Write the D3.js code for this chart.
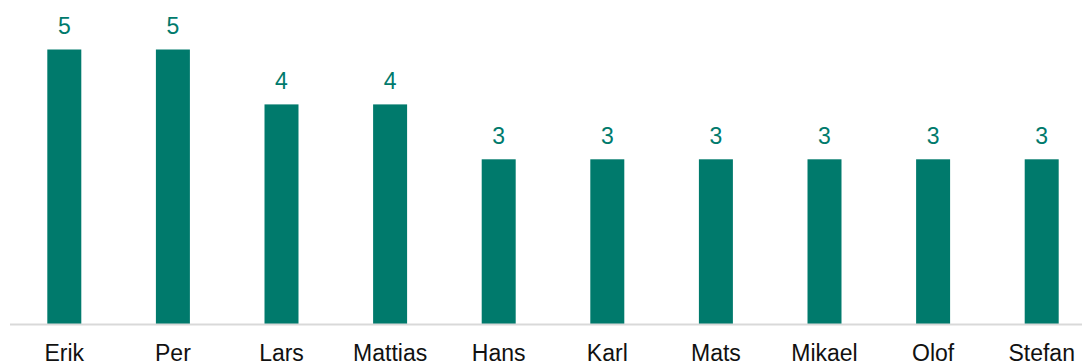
<!DOCTYPE html>
<html>
<head>
<meta charset="utf-8">
<script src="https://cdn.jsdelivr.net/npm/d3@7"></script>
<style>
  html, body { margin: 0; padding: 0; background: #fff; }
  svg { display: block; }
  text { font-family: "Liberation Sans", Arial, sans-serif; }
</style>
</head>
<body>
<div id="chart"></div>
<script>
const names = ["Erik", "Per", "Lars", "Mattias", "Hans", "Karl", "Mats", "Mikael", "Olof", "Stefan"];
const counts = [5, 5, 4, 4, 3, 3, 3, 3, 3, 3];

const width = 1082, height = 362;
const barColor = "#007A6C";

const svg = d3.select("#chart").append("svg")
  .attr("width", width)
  .attr("height", height);

const x = d3.scaleBand()
  .domain(names)
  .range([10, 1096])
  .paddingInner(0.687)
  .paddingOuter(0.3435);

const y = d3.scaleLinear()
  .domain([0, 5])
  .range([324, 49.5]);

// bars
svg.append("g").selectAll("rect")
  .data(names)
  .join("rect")
  .attr("x", d => x(d))
  .attr("width", x.bandwidth())
  .attr("y", (d, i) => y(counts[i]))
  .attr("height", (d, i) => y(0) - y(counts[i]))
  .attr("fill", barColor);

// baseline
svg.append("line")
  .attr("x1", 10).attr("x2", width)
  .attr("y1", y(0) + 0.5).attr("y2", y(0) + 0.5)
  .attr("stroke", "#d9d9d9")
  .attr("stroke-width", 2);

// value labels
svg.append("g").selectAll("text")
  .data(names)
  .join("text")
  .attr("x", d => x(d) + x.bandwidth() / 2)
  .attr("y", (d, i) => y(counts[i]) - 15.5)
  .attr("text-anchor", "middle")
  .attr("font-size", 23)
  .attr("fill", barColor)
  .text((d, i) => counts[i]);

// category axis
const xAxis = d3.axisBottom(x).tickSize(0).tickPadding(0);
const gx = svg.append("g")
  .attr("transform", `translate(0,${y(0)})`)
  .call(xAxis);
gx.select(".domain").remove();
gx.selectAll("text")
  .attr("dy", null)
  .attr("y", 36.5)
  .attr("font-size", 23)
  .attr("font-family", "'Liberation Sans', Arial, sans-serif")
  .attr("fill", "#111");
</script>
</body>
</html>
